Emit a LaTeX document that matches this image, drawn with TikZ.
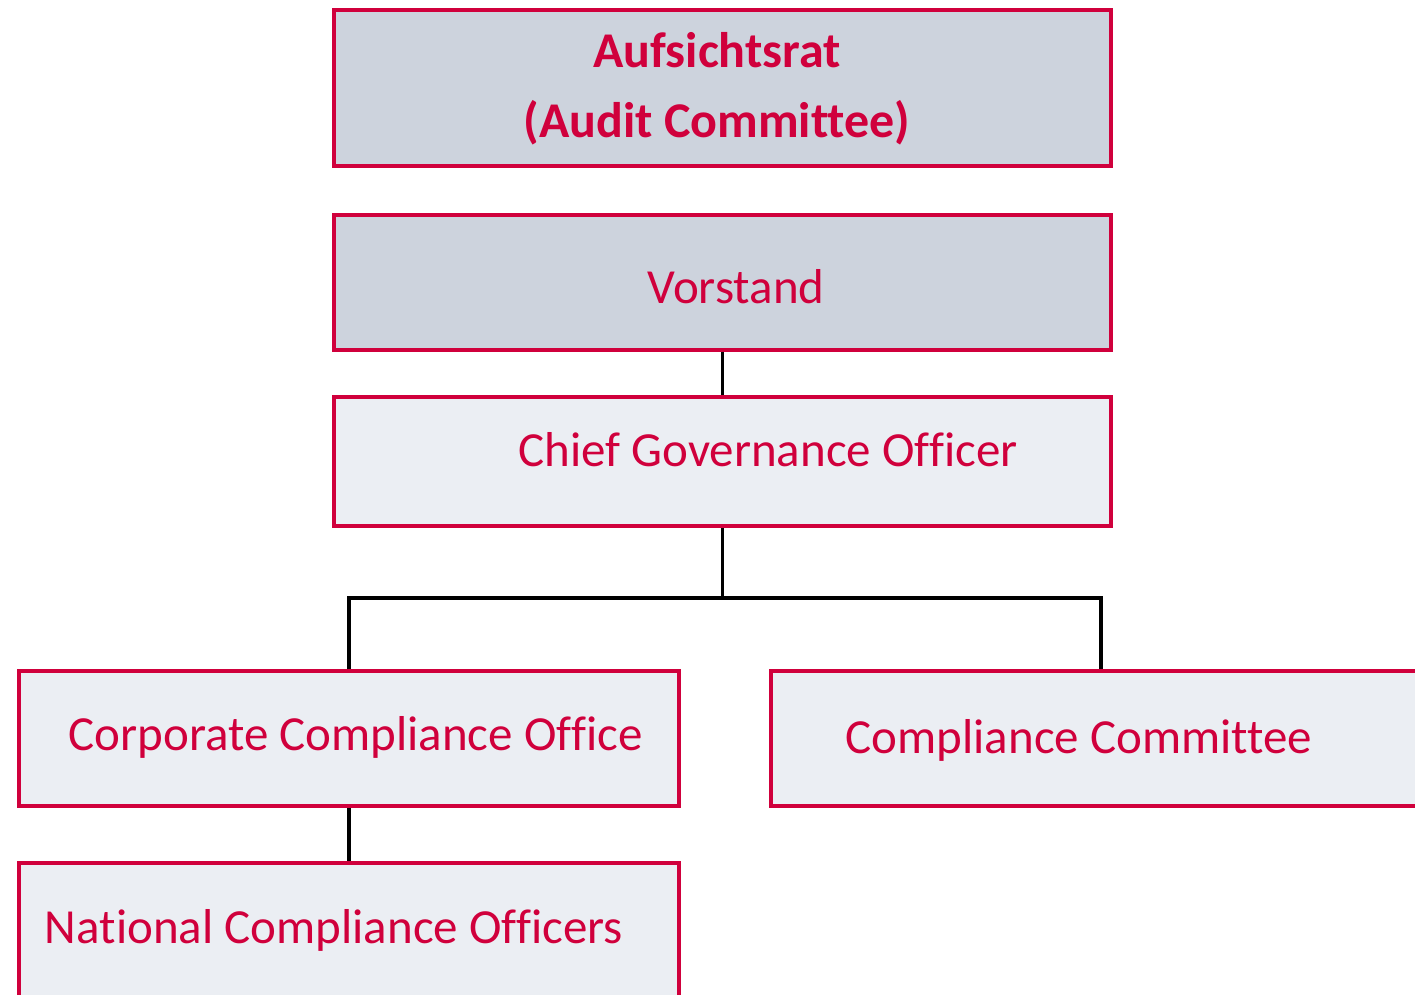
\documentclass[tikz,border=0pt]{standalone}
\usepackage{fontspec}
\setmainfont{Carlito}[Ligatures={NoCommon}]
\definecolor{boxred}{HTML}{D0003C}
\definecolor{boxdark}{HTML}{CDD3DD}
\definecolor{boxlight}{HTML}{EBEEF3}
\begin{document}
\begin{tikzpicture}[x=1pt,y=-1pt,
	orgbox/.style={draw=boxred,line width=3.5pt,minimum width=777pt,inner sep=0pt},
	unitbox/.style={draw=boxred,line width=3.5pt,fill=boxlight,minimum width=660pt,minimum height=135pt,inner sep=0pt},
	boxtext/.style={text=boxred,font=\fontsize{49}{70}\selectfont}]
	\useasboundingbox (0,0) rectangle (1415,995);
	\clip (0,0) rectangle (1415,995);
% boxes
	\node[orgbox,fill=boxdark,minimum height=156pt] (aufsichtsrat) at (722.5,88) {};
	\node[boxtext,font=\fontsize{50}{70}\selectfont\bfseries,align=center] (aufsichtsratText) at (717,89) {Aufsichtsrat\\(Audit Committee)};

	\node[orgbox,fill=boxdark,minimum height=135pt] (vorstand) at (722.5,282.5) {};
	\node[boxtext] (vorstandText) at (736,287) {Vorstand};

	\node[orgbox,fill=boxlight,minimum height=129pt] (cgo) at (722.5,461.5) {};
	\node[boxtext] (cgoText) at (768,450) {Chief Governance Officer};

	\node[unitbox] (cco) at (349,738.5) {};
	\node[boxtext] (ccoText) at (355.5,737) {Corporate Compliance Office};

	\node[unitbox] (committee) at (1101,738.5) {};
	\node[boxtext] (committeeText) at (1079,740) {Compliance Committee};

	\node[unitbox] (nco) at (349,930.5) {};
	\node[boxtext] (ncoText) at (334,930) {National Compliance Officers};

	%Links
	\coordinate (fork) at (722.5,598);
	\draw[line width=3.5pt] (vorstand.south) -- (cgo.north);
	\draw[line width=3.5pt] (cgo.south) -- (fork);
	\draw[line width=3.5pt] (cco.north) |- (fork) -| (committee.north);
	\draw[line width=3.5pt] (cco.south) -- (nco.north);
\end{tikzpicture}
\end{document}
